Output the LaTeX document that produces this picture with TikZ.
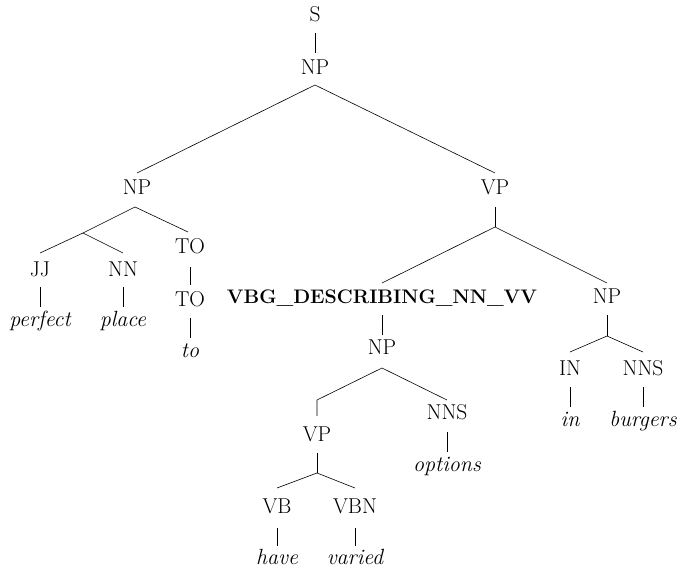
\documentclass[tikz,border=0pt]{standalone}
\usepackage{fontspec}
\begin{document}
\begin{tikzpicture}[x=1pt,y=-1pt,
  lab/.style={anchor=base,inner sep=0pt,font=\fontsize{21.5}{25}\selectfont},
  word/.style={lab,font=\fontsize{22}{26}\selectfont\itshape},
  bold/.style={lab,font=\fontsize{19.6}{24}\selectfont\bfseries},
  br/.style={line width=0.6pt}]
\useasboundingbox (0,0) rectangle (681,569);
% labels
\node[lab] (s) at (315,22) {S};
\node[lab] (np0) at (315,75) {NP};
\node[lab] (npl) at (137,195) {NP};
\node[lab] (vp) at (495,195) {VP};
\node[lab] (jj) at (40,277) {JJ};
\node[lab] (nn) at (123,277) {NN};
\node[lab] (toa) at (190,254) {TO};
\node[word] (perfect) at (40,327) {perfect};
\node[word] (place) at (123,327) {place};
\node[lab] (tob) at (190,307) {TO};
\node[word] (to) at (190,358) {to};
\node[bold] (vbg) at (382,304) {VBG\_DESCRIBING\_NN\_VV};
\node[lab] (npr) at (607,304) {NP};
\node[lab] (npm) at (382,355) {NP};
\node[lab] (in) at (570,376) {IN};
\node[lab] (nnsr) at (643,376) {NNS};
\node[word] (inw) at (570,427) {in};
\node[word] (burgers) at (643,427) {burgers};
\node[lab] (vpm) at (317,442) {VP};
\node[lab] (nnsm) at (447,420) {NNS};
\node[word] (options) at (447,472) {options};
\node[lab] (vb) at (277,514) {VB};
\node[lab] (vbn) at (355,514) {VBN};
\node[word] (have) at (277,565) {have};
\node[word] (varied) at (355,565) {varied};
% connector end points
\coordinate (s-b) at (315,33); \coordinate (np0-t) at (315,53);
\coordinate (np0-b) at (315,85);
\coordinate (npl-t) at (137,173); \coordinate (vp-t) at (495,173);
\coordinate (npl-b) at (135,207); \coordinate (jn1) at (83,233);
\coordinate (jj-t) at (40,253); \coordinate (nn-t) at (123,253);
\coordinate (toa-t) at (188,232);
\coordinate (jj-b) at (40,287); \coordinate (perfect-t) at (40,307);
\coordinate (nn-b) at (123,287); \coordinate (place-t) at (123,307);
\coordinate (toa-b) at (190,267); \coordinate (tob-t) at (190,285);
\coordinate (tob-b) at (190,318); \coordinate (to-t) at (190,338);
\coordinate (vp-b) at (495,207); \coordinate (jn2) at (495,227);
\coordinate (vbg-t) at (382,283); \coordinate (npr-t) at (607,283);
\coordinate (vbg-b) at (382,315); \coordinate (npm-t) at (382,335);
\coordinate (npr-b) at (607,315); \coordinate (jn3) at (607,336);
\coordinate (in-t) at (570,352); \coordinate (nnsr-t) at (643,352);
\coordinate (in-b) at (570,387); \coordinate (inw-t) at (570,407);
\coordinate (nnsr-b) at (643,387); \coordinate (burgers-t) at (643,407);
\coordinate (npm-b) at (382,368); \coordinate (jn4) at (317,400);
\coordinate (vpm-t) at (317,416); \coordinate (nnsm-t) at (447,400);
\coordinate (nnsm-b) at (447,432); \coordinate (options-t) at (447,452);
\coordinate (vpm-b) at (317,453); \coordinate (jn5) at (317,473);
\coordinate (vb-t) at (277,488); \coordinate (vbn-t) at (355,488);
\coordinate (vb-b) at (277,528); \coordinate (have-t) at (277,546);
\coordinate (vbn-b) at (355,528); \coordinate (varied-t) at (355,546);
% connectors
\draw[br] (s-b) -- (np0-t);
\draw[br] (npl-t) -- (np0-b) -- (vp-t);
\draw[br] (npl-b) -- (jn1);
\draw[br] (jj-t) -- (jn1) -- (nn-t);
\draw[br] (npl-b) -- (toa-t);
\draw[br] (jj-b) -- (perfect-t);
\draw[br] (nn-b) -- (place-t);
\draw[br] (toa-b) -- (tob-t);
\draw[br] (tob-b) -- (to-t);
\draw[br] (vp-b) -- (jn2);
\draw[br] (vbg-t) -- (jn2) -- (npr-t);
\draw[br] (vbg-b) -- (npm-t);
\draw[br] (npr-b) -- (jn3);
\draw[br] (in-t) -- (jn3) -- (nnsr-t);
\draw[br] (in-b) -- (inw-t);
\draw[br] (nnsr-b) -- (burgers-t);
\draw[br] (vpm-t) -- (jn4) -- (npm-b) -- (nnsm-t);
\draw[br] (nnsm-b) -- (options-t);
\draw[br] (vpm-b) -- (jn5);
\draw[br] (vb-t) -- (jn5) -- (vbn-t);
\draw[br] (vb-b) -- (have-t);
\draw[br] (vbn-b) -- (varied-t);
\end{tikzpicture}
\end{document}
